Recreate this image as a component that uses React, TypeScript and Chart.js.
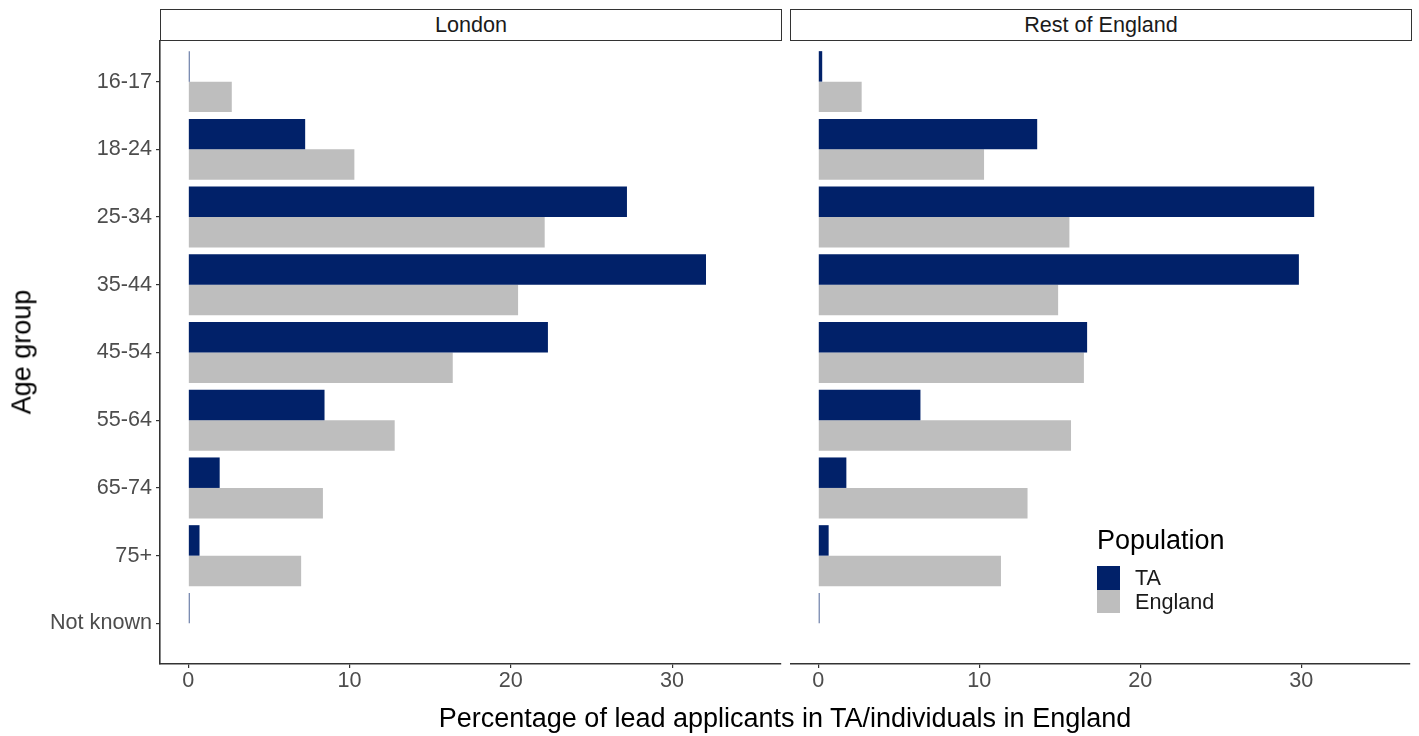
import React, { useEffect, useRef } from 'react';
import { Chart, registerables } from 'chart.js';

Chart.register(...registerables);

const ageGroups = ['16-17', '18-24', '25-34', '35-44', '45-54', '55-64', '65-74', '75+', 'Not known'];
const londonTA = [0.08, 7.25, 27.2, 32.1, 22.3, 8.45, 1.95, 0.7, 0.08];
const londonEngland = [2.7, 10.3, 22.1, 20.45, 16.4, 12.8, 8.35, 7.0, 0];
const restTA = [0.25, 13.6, 30.8, 29.85, 16.7, 6.35, 1.75, 0.65, 0.08];
const restEngland = [2.7, 10.3, 15.6, 14.9, 16.5, 15.7, 13.0, 11.35, 0];
const xTicks = [0, 10, 20, 30];
const seriesNames = ['TA', 'England'];
const panelNames = ['London', 'Rest of England'];
const xTitle = 'Percentage of lead applicants in TA/individuals in England';
const yTitle = 'Age group';
const legendTitle = 'Population';

const NAVY = '#012169';
const GREY = '#bebebe';
const FONT = '"Liberation Sans", Arial, Helvetica, sans-serif';
const AXIS = '#333333';
const SMALL = 21.6;
const BIG = 27;

function makeConfig(ta: number[], eng: number[], showY: boolean): any {
  return {
    type: 'bar',
    data: {
      datasets: [
        {
          label: seriesNames[0],
          data: ta.map((v, i) => ({ x: v, y: i })),
          backgroundColor: NAVY,
          borderWidth: 0,
          categoryPercentage: 0.9,
          barPercentage: 1,
        },
        {
          label: seriesNames[1],
          data: eng.map((v, i) => ({ x: v, y: i })),
          backgroundColor: GREY,
          borderWidth: 0,
          categoryPercentage: 0.9,
          barPercentage: 1,
        },
      ],
    },
    options: {
      indexAxis: 'y',
      responsive: false,
      animation: false,
      layout: { padding: { left: 0, top: 41, right: 9, bottom: 32 } },
      plugins: { legend: { display: false }, tooltip: { enabled: false } },
      scales: {
        x: {
          type: 'linear',
          min: -1.75,
          max: 36.75,
          offset: false,
          afterBuildTicks: (s: any) => {
            s.ticks = xTicks.map((v) => ({ value: v }));
          },
          afterFit: (s: any) => {
            s.height = 40;
          },
          ticks: { font: { family: FONT, size: SMALL }, color: '#4d4d4d', padding: 0, maxRotation: 0 },
          grid: { display: true, drawOnChartArea: false, drawTicks: true, tickLength: 4, color: AXIS, lineWidth: 1.2 },
          border: { display: true, color: AXIS, width: 1.6 },
        },
        y: {
          type: 'linear',
          display: showY,
          reverse: true,
          offset: false,
          min: -0.6,
          max: 8.6,
          afterBuildTicks: (s: any) => {
            s.ticks = ageGroups.map((_, i) => ({ value: i }));
          },
          afterFit: (s: any) => {
            if (showY) s.width = 160;
          },
          ticks: {
            autoSkip: false,
            callback: (v: any) => ageGroups[Math.round(v)] ?? '',
            font: { family: FONT, size: SMALL },
            color: '#4d4d4d',
            padding: 4,
          },
          grid: { display: true, drawOnChartArea: false, drawTicks: true, tickLength: 4, color: AXIS, lineWidth: 1.2, offset: false },
          border: { display: true, color: AXIS, width: 1.6 },
        },
      },
    },
  };
}

function Panel({ ta, eng, showY, left, width }: { ta: number[]; eng: number[]; showY: boolean; left: number; width: number }) {
  const ref = useRef<HTMLCanvasElement | null>(null);
  useEffect(() => {
    if (!ref.current) return;
    const chart = new Chart(ref.current, makeConfig(ta, eng, showY));
    return () => chart.destroy();
  }, [ta, eng, showY]);
  return (
    <canvas
      ref={ref}
      width={width}
      height={736}
      style={{ position: 'absolute', left, top: 0, width, height: 736 }}
    />
  );
}

const stripStyle = (left: number, width: number): React.CSSProperties => ({
  position: 'absolute',
  left,
  top: 9,
  width,
  height: 32,
  boxSizing: 'border-box',
  border: `1.6px solid ${AXIS}`,
  background: '#fff',
  display: 'flex',
  alignItems: 'center',
  justifyContent: 'center',
  fontFamily: FONT,
  fontSize: SMALL,
  color: '#1a1a1a',
});

export default function App() {
  return (
    <div
      style={{
        position: 'absolute',
        left: 0,
        top: 0,
        width: 1419,
        height: 736,
        background: '#fff',
        overflow: 'hidden',
        fontFamily: FONT,
      }}
    >
      <Panel ta={londonTA} eng={londonEngland} showY={true} left={0} width={790} />
      <Panel ta={restTA} eng={restEngland} showY={false} left={790} width={629} />
      <div style={stripStyle(160, 622)}>{panelNames[0]}</div>
      <div style={stripStyle(790, 622)}>{panelNames[1]}</div>
      <div
        style={{
          position: 'absolute',
          left: 22,
          top: 352,
          transform: 'translate(-50%, -50%) rotate(-90deg)',
          fontSize: BIG,
          color: '#000',
          whiteSpace: 'nowrap',
        }}
      >
        {yTitle}
      </div>
      <div
        style={{
          position: 'absolute',
          left: 785,
          top: 718,
          transform: 'translate(-50%, -50%)',
          fontSize: BIG,
          color: '#000',
          whiteSpace: 'nowrap',
        }}
      >
        {xTitle}
      </div>
      <div style={{ position: 'absolute', left: 1097, top: 527, fontSize: BIG, color: '#000', lineHeight: `${BIG}px`, whiteSpace: 'nowrap' }}>
        {legendTitle}
      </div>
      {seriesNames.map((name, i) => (
        <React.Fragment key={name}>
          <div
            style={{
              position: 'absolute',
              left: 1097,
              top: 566 + i * 23.5,
              width: 23,
              height: 23.5,
              background: i === 0 ? NAVY : GREY,
            }}
          />
          <div
            style={{
              position: 'absolute',
              left: 1135,
              top: 566 + i * 23.5,
              height: 23.5,
              lineHeight: '23.5px',
              fontSize: SMALL,
              color: '#1a1a1a',
              whiteSpace: 'nowrap',
            }}
          >
            {name}
          </div>
        </React.Fragment>
      ))}
    </div>
  );
}
